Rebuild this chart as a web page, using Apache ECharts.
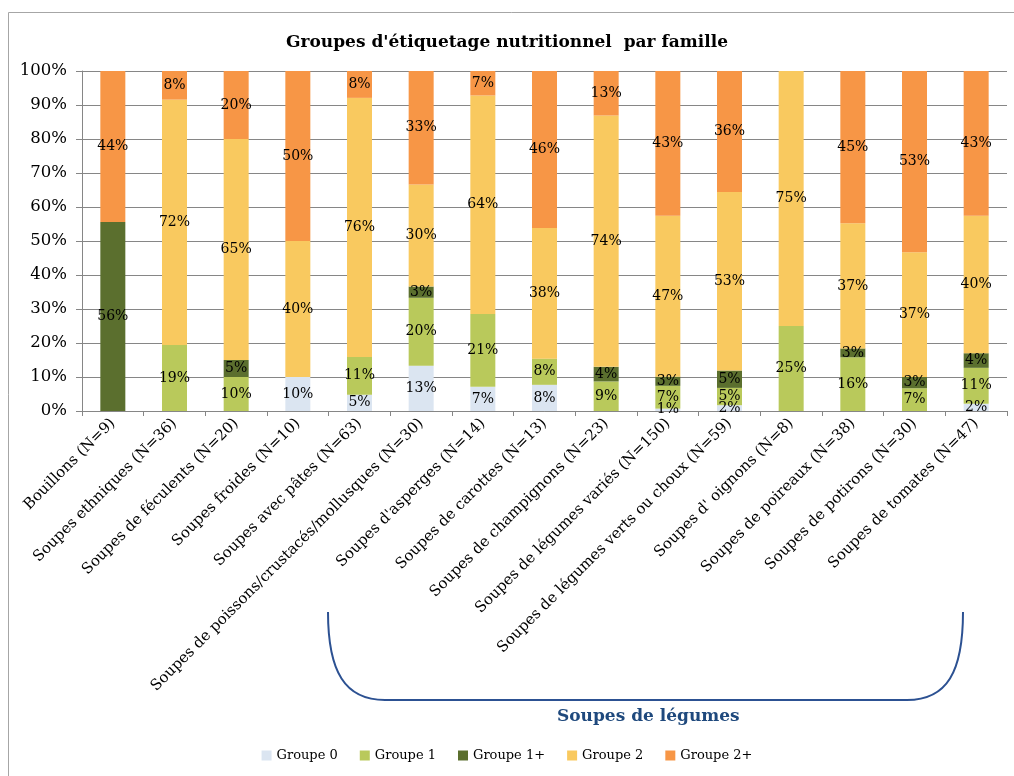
<!DOCTYPE html>
<html>
<head>
<meta charset="utf-8">
<script src="https://cdn.jsdelivr.net/npm/echarts/dist/echarts.min.js"></script>
<style>
  html, body { margin: 0; padding: 0; background: #fff; }
  #chart { width: 1014px; height: 776px; }
</style>
</head>
<body>
<div id="chart"></div>
<script>
const categories = [
  'Bouillons (N=9)',
  'Soupes ethniques (N=36)',
  'Soupes de féculents (N=20)',
  'Soupes froides (N=10)',
  'Soupes avec pâtes (N=63)',
  'Soupes de poissons/crustacés/mollusques (N=30)',
  "Soupes d'asperges (N=14)",
  'Soupes de carottes (N=13)',
  'Soupes de champignons (N=23)',
  'Soupes de légumes variés (N=150)',
  'Soupes de légumes verts ou choux (N=59)',
  "Soupes d' oignons (N=8)",
  'Soupes de poireaux (N=38)',
  'Soupes de potirons (N=30)',
  'Soupes de tomates (N=47)'
];

// parts en % par groupe
const groupe0 = [0, 0, 0, 10, 4.8, 13.3, 7.1, 7.7, 0, 0.7, 1.7, 0, 0, 0, 2.1];
const groupe1 = [0, 19.4, 10, 0, 11.1, 20, 21.4, 7.7, 8.7, 6.7, 5.1, 25, 15.8, 6.7, 10.6];
const groupe1p = [55.6, 0, 5, 0, 0, 3.3, 0, 0, 4.3, 2.7, 5.1, 0, 2.6, 3.3, 4.3];
const groupe2 = [0, 72.2, 65, 40, 76.2, 30, 64.3, 38.4, 73.9, 47.3, 52.5, 75, 36.8, 36.7, 40.4];
const groupe2p = [44.4, 8.4, 20, 50, 7.9, 33.4, 7.2, 46.2, 13.1, 42.6, 35.6, 0, 44.8, 53.3, 42.6];

const yTicks = [0, 10, 20, 30, 40, 50, 60, 70, 80, 90, 100];

const seriesDefs = [
  { name: 'Groupe 0', data: groupe0, color: '#dbe5f1' },
  { name: 'Groupe 1', data: groupe1, color: '#b9c95b' },
  { name: 'Groupe 1+', data: groupe1p, color: '#5b6f2e' },
  { name: 'Groupe 2', data: groupe2, color: '#f9c95f' },
  { name: 'Groupe 2+', data: groupe2p, color: '#f79646' }
];

const font = 'DejaVu Serif';
const blue = '#2c5192';
const chart = echarts.init(document.getElementById('chart'));

chart.setOption({
  animation: false,
  title: {
    text: "Groupes d'étiquetage nutritionnel  par famille",
    left: 'center',
    top: 29,
    textStyle: { fontFamily: font, fontSize: 17, fontWeight: 'bold', color: '#000' }
  },
  legend: {
    bottom: 9,
    left: 'center',
    icon: 'rect',
    itemWidth: 10,
    itemHeight: 10,
    itemGap: 22,
    textStyle: { fontFamily: font, fontSize: 13, color: '#000' },
    data: seriesDefs.map(s => s.name)
  },
  grid: { left: 82, right: 7, top: 71, bottom: 365 },
  xAxis: {
    type: 'category',
    data: categories,
    axisLine: { lineStyle: { color: '#868686' } },
    axisTick: { show: true, lineStyle: { color: '#868686' }, length: 5 },
    axisLabel: {
      interval: 0,
      rotate: 45,
      margin: 10,
      fontFamily: font,
      fontSize: 15,
      color: '#000'
    }
  },
  yAxis: {
    type: 'value',
    min: yTicks[0],
    max: yTicks[yTicks.length - 1],
    interval: 10,
    axisLine: { show: true, lineStyle: { color: '#868686' } },
    axisTick: { show: true, lineStyle: { color: '#868686' }, length: 6 },
    axisLabel: { formatter: '{value}%', fontFamily: font, fontSize: 16.5, color: '#000', margin: 15 },
    splitLine: { lineStyle: { color: '#868686', width: 1 } }
  },
  series: seriesDefs.map(s => ({
    name: s.name,
    type: 'bar',
    stack: 'total',
    barWidth: 25,
    itemStyle: { color: s.color },
    label: {
      show: true,
      position: 'inside',
      fontFamily: font,
      fontSize: 14,
      color: '#000',
      formatter: p => (p.value > 0 ? Math.round(p.value) + '%' : '')
    },
    data: s.data
  })),
  graphic: [
    {
      type: 'rect',
      shape: { x: 8.5, y: 12.5, width: 1100, height: 900 },
      style: { fill: 'none', stroke: '#a6a6a6', lineWidth: 1 },
      silent: true
    },
    {
      type: 'bezierCurve',
      shape: { x1: 328, y1: 612, x2: 385, y2: 700, cpx1: 328, cpy1: 672, cpx2: 345, cpy2: 700 },
      style: { stroke: blue, lineWidth: 2, fill: 'none' }
    },
    {
      type: 'line',
      shape: { x1: 385, y1: 700, x2: 907, y2: 700 },
      style: { stroke: blue, lineWidth: 2 }
    },
    {
      type: 'bezierCurve',
      shape: { x1: 907, y1: 700, x2: 963, y2: 612, cpx1: 947, cpy1: 700, cpx2: 963, cpy2: 672 },
      style: { stroke: blue, lineWidth: 2, fill: 'none' }
    },
    {
      type: 'text',
      left: 557,
      top: 708,
      style: {
        text: 'Soupes de légumes',
        fontFamily: font,
        fontSize: 17,
        fontWeight: 'bold',
        fill: '#1f497d'
      }
    }
  ]
});
</script>
</body>
</html>
